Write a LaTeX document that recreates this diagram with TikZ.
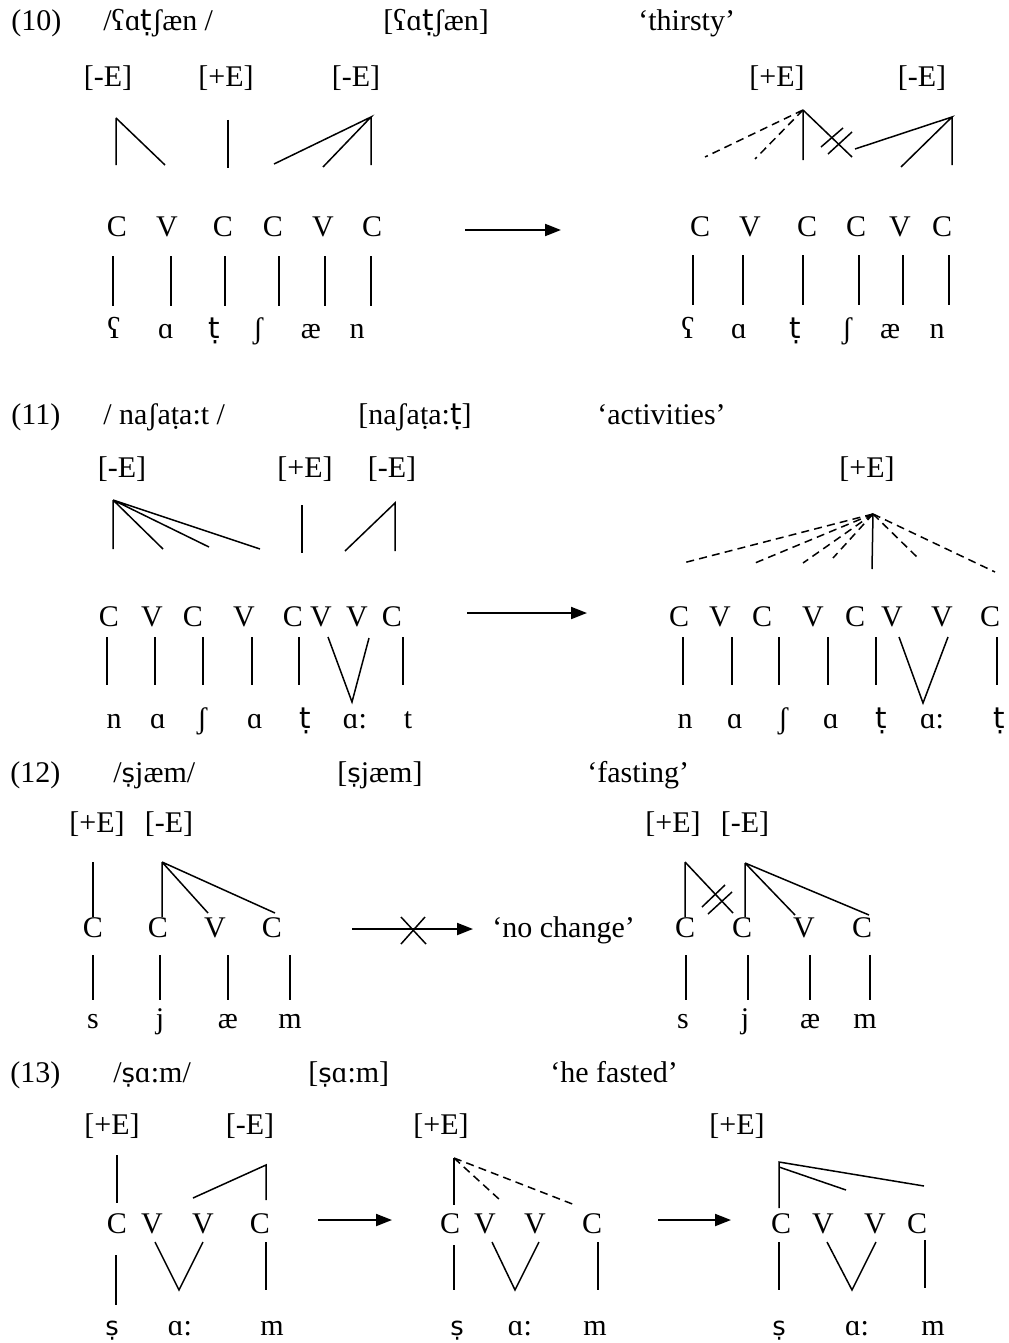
\documentclass[tikz,border=0pt]{standalone}
\usepackage{fontspec}
\setmainfont{Liberation Serif}
\newfontfamily\ipas{DejaVu Sans}[Scale=0.86]
\newfontfamily\ipat{DejaVu Sans}[Scale=0.98]
\usetikzlibrary{arrows.meta}
\newcommand\fs{\fontsize{15}{18}\selectfont}
\newcommand\dt{{\ipat ṭ}}
\newcommand\ds{{\ipas ṣ}}
\tikzset{
  txt/.style={anchor=base, inner sep=0pt, font=\fs},
  hdr/.style={anchor=base west, inner sep=0pt, font=\fs},
  ln/.style={line width=0.75pt},
  dl/.style={line width=0.75pt, dash pattern=on 4pt off 2.6pt},
  arr/.style={line width=1pt, -{Triangle[length=8pt,width=6pt]}},
}
\begin{document}
\begin{tikzpicture}[x=0.5pt,y=-0.5pt]
\useasboundingbox (0,0) rectangle (1008,1343);

% ---------------- (10) ----------------
\node[hdr] (h10) at (11,31) {(10)};
\node[hdr] (u10) at (103,31) {/ʕɑ\dt ʃæn /};
\node[hdr] (s10) at (383,31) {[ʕɑ\dt ʃæn]};
\node[hdr] (g10) at (638,31) {‘thirsty’};

\foreach \x/\t [count=\i] in {108/{[-E]},226/{[+E]},356/{[-E]}}
  \node[txt] (tA\i) at (\x,87) {\t};
\draw[ln] (116,118)--(116,165) (116,118)--(165,165);
\draw[ln] (228,120)--(228,168);
\draw[ln] (274,164)--(371,117)--(323,167) (371,117)--(371,165);
\foreach \x/\t [count=\i] in {117/C,167/V,223/C,273/C,323/V,372/C}
  \node[txt] (cA\i) at (\x,236) {\t};
\foreach \x in {113,171,225,279,325,371}
  \draw[ln] (\x,256)--(\x,306);
\foreach \x/\t [count=\i] in {114/ʕ,166/ɑ,214/\dt,258/ʃ,311/æ,357/n}
  \node[txt] (sA\i) at (\x,338) {\t};

\coordinate (a10s) at (465,230);
\coordinate (a10e) at (561,230);
\draw[arr] (a10s)--(a10e);

\foreach \x/\t [count=\i] in {777/{[+E]},922/{[-E]}}
  \node[txt] (tB\i) at (\x,87) {\t};
\draw[dl] (803,110)--(705,157) (803,110)--(755,159);
\draw[ln] (803,110)--(803,160) (803,110)--(852,157);
\draw[ln] (821,147)--(843,128) (828,154)--(852,132);
\draw[ln] (855,149)--(952,117)--(901,167) (952,117)--(952,165);
\foreach \x/\t [count=\i] in {700/C,750/V,807/C,856/C,900/V,942/C}
  \node[txt] (cB\i) at (\x,236) {\t};
\foreach \x in {693,743,803,859,903,949}
  \draw[ln] (\x,255)--(\x,305);
\foreach \x/\t [count=\i] in {688/ʕ,739/ɑ,795/\dt,847/ʃ,890/æ,937/n}
  \node[txt] (sB\i) at (\x,338) {\t};

% ---------------- (11) ----------------
\node[hdr] (h11) at (11,424) {(11)};
\node[hdr] (u11) at (103,424) {/ naʃaṭa:t /};
\node[hdr] (s11) at (358,424) {[naʃaṭa:\dt]};
\node[hdr] (g11) at (597,424) {‘activities’};

\foreach \x/\t [count=\i] in {122/{[-E]},305/{[+E]},392/{[-E]}}
  \node[txt] (tC\i) at (\x,477) {\t};
\draw[ln] (113,500)--(113,549) (113,500)--(163,549)
          (113,500)--(209,547) (113,500)--(260,549);
\draw[ln] (302,505)--(302,553);
\draw[ln] (345,551)--(395,503)--(395,551);
\foreach \x/\t [count=\i] in {109/C,152/V,193/C,244/V,293/C,321/V,357/V,392/C}
  \node[txt] (cC\i) at (\x,626) {\t};
\foreach \x in {107,155,203,252,299,403}
  \draw[ln] (\x,637)--(\x,685);
\draw[ln] (328,637)--(352,702)--(369,638);
\foreach \x/\t [count=\i] in {114/n,158/ɑ,202/ʃ,255/ɑ,305/\dt,355/ɑ:,408/t}
  \node[txt] (sC\i) at (\x,728) {\t};

\coordinate (a11s) at (467,613);
\coordinate (a11e) at (587,613);
\draw[arr] (a11s)--(a11e);

\node[txt] (tD1) at (867,477) {[+E]};
\coordinate (apx11) at (873,514);
\draw[ln] (apx11)--(872,569);
\foreach \p in {(683,563),(755,563),(803,563),(833,558),(918,558),(995,572)}
  \draw[dl] (apx11)--\p;
\foreach \x/\t [count=\i] in {679/C,720/V,762/C,813/V,855/C,892/V,942/V,990/C}
  \node[txt] (cD\i) at (\x,626) {\t};
\foreach \x in {683,732,779,828,876,997}
  \draw[ln] (\x,637)--(\x,685);
\draw[ln] (899,637)--(923,703)--(948,637);
\foreach \x/\t [count=\i] in {685/n,735/ɑ,783/ʃ,831/ɑ,881/\dt,932/ɑ:,999/\dt}
  \node[txt] (sD\i) at (\x,728) {\t};

% ---------------- (12) ----------------
\node[hdr] (h12) at (10,782) {(12)};
\node[hdr] (u12) at (113,782) {/\ds jæm/};
\node[hdr] (s12) at (337,782) {[\ds jæm]};
\node[hdr] (g12) at (587,782) {‘fasting’};

\foreach \x/\t [count=\i] in {97/{[+E]},169/{[-E]}}
  \node[txt] (tE\i) at (\x,832) {\t};
\draw[ln] (93,862)--(93,917);
\draw[ln] (162,862)--(162,917) (162,862)--(208,913) (162,862)--(275,913);
\foreach \x/\t [count=\i] in {93/C,158/C,215/V,272/C}
  \node[txt] (cE\i) at (\x,937) {\t};
\foreach \x in {93,160,228,290}
  \draw[ln] (\x,955)--(\x,1000);
\foreach \x/\t [count=\i] in {93/s,160/j,228/æ,290/m}
  \node[txt] (sE\i) at (\x,1028) {\t};

\coordinate (a12s) at (352,929);
\coordinate (a12e) at (473,929);
\draw[arr] (a12s)--(a12e);
\draw[ln] (401,917)--(426,944) (401,944)--(425,917);
\node[hdr] (nc12) at (492,937) {‘no change’};

\foreach \x/\t [count=\i] in {673/{[+E]},745/{[-E]}}
  \node[txt] (tF\i) at (\x,832) {\t};
\draw[ln] (685,862)--(685,917) (685,862)--(733,913);
\draw[ln] (702,907)--(725,885) (708,914)--(732,892);
\draw[ln] (745,863)--(745,917) (745,863)--(795,915) (745,863)--(869,915);
\foreach \x/\t [count=\i] in {685/C,742/C,804/V,862/C}
  \node[txt] (cF\i) at (\x,937) {\t};
\foreach \x in {686,748,810,870}
  \draw[ln] (\x,955)--(\x,1000);
\foreach \x/\t [count=\i] in {683/s,745/j,810/æ,865/m}
  \node[txt] (sF\i) at (\x,1028) {\t};

% ---------------- (13) ----------------
\node[hdr] (h13) at (10,1082) {(13)};
\node[hdr] (u13) at (113,1082) {/\ds ɑ:m/};
\node[hdr] (s13) at (308,1082) {[\ds ɑ:m]};
\node[hdr] (g13) at (550,1082) {‘he fasted’};

\foreach \x/\t [count=\i] in {112/{[+E]},250/{[-E]}}
  \node[txt] (tG\i) at (\x,1134) {\t};
\draw[ln] (117,1155)--(117,1203);
\draw[ln] (193,1198)--(266,1165)--(266,1200);
\foreach \x/\t [count=\i] in {117/C,152/V,203/V,260/C}
  \node[txt] (cG\i) at (\x,1233) {\t};
\draw[ln] (116,1255)--(116,1305);
\draw[ln] (155,1242)--(179,1290)--(203,1242);
\draw[ln] (266,1242)--(266,1290);
\foreach \x/\t [count=\i] in {112/\ds,180/ɑ:,272/m}
  \node[txt] (sG\i) at (\x,1335) {\t};

\coordinate (a13s) at (318,1220);
\coordinate (a13e) at (392,1220);
\draw[arr] (a13s)--(a13e);

\node[txt] (tH1) at (441,1134) {[+E]};
\draw[ln] (454,1158)--(454,1205);
\draw[dl] (454,1158)--(500,1200) (454,1158)--(575,1205);
\foreach \x/\t [count=\i] in {450/C,485/V,535/V,592/C}
  \node[txt] (cH\i) at (\x,1233) {\t};
\draw[ln] (454,1245)--(454,1290);
\draw[ln] (492,1242)--(515,1290)--(539,1242);
\draw[ln] (598,1242)--(598,1290);
\foreach \x/\t [count=\i] in {457/\ds,520/ɑ:,595/m}
  \node[txt] (sH\i) at (\x,1335) {\t};

\coordinate (a13t) at (658,1220);
\coordinate (a13u) at (731,1220);
\draw[arr] (a13t)--(a13u);

\node[txt] (tI1) at (737,1134) {[+E]};
\draw[ln] (779,1208)--(779,1162)--(924,1186) (779,1167)--(846,1190);
\foreach \x/\t [count=\i] in {781/C,823/V,875/V,917/C}
  \node[txt] (cI\i) at (\x,1233) {\t};
\draw[ln] (779,1242)--(779,1290);
\draw[ln] (827,1242)--(852,1290)--(876,1242);
\draw[ln] (925,1240)--(925,1288);
\foreach \x/\t [count=\i] in {779/\ds,857/ɑ:,933/m}
  \node[txt] (sI\i) at (\x,1335) {\t};
\end{tikzpicture}
\end{document}
